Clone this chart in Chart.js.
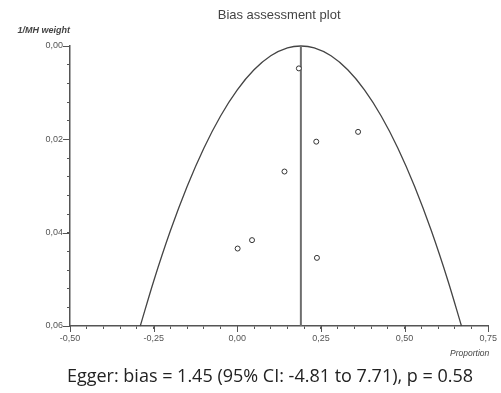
<!DOCTYPE html>
<html>
<head>
<meta charset="utf-8">
<script src="https://cdn.jsdelivr.net/npm/chart.js@4.4.1/dist/chart.umd.min.js"></script>
<style>
  html, body { margin: 0; padding: 0; background: #ffffff; }
  #wrap { position: relative; width: 501px; height: 393px; }
  canvas { display: block; }
</style>
</head>
<body>
<div id="wrap"><canvas id="c" width="501" height="393"></canvas></div>
<script>
// ---- data ----
const studyProportion = [0.184, 0.236, 0.361, 0.141, 0.044, 0.001, 0.238];
const studyInvWeight  = [0.0048, 0.0205, 0.0184, 0.0269, 0.0416, 0.0434, 0.0454];

const pooledProportion = 0.19;
const pooledLineY = [0, 0.06];

const curveProportion = [-0.29, -0.25, -0.20, -0.15, -0.10, -0.05, 0.00, 0.05, 0.10, 0.15, 0.19, 0.23, 0.28, 0.33, 0.38, 0.43, 0.48, 0.53, 0.58, 0.63, 0.67];
const curveInvWeight  = [0.060, 0.0504, 0.0396, 0.0301, 0.0219, 0.0150, 0.0094, 0.0051, 0.0021, 0.0004, 0.0, 0.0004, 0.0021, 0.0051, 0.0094, 0.0150, 0.0219, 0.0301, 0.0396, 0.0504, 0.060];

const xTickValues = [-0.5, -0.25, 0, 0.25, 0.5, 0.75];
const xTickLabels = ['-0,50', '-0,25', '0,00', '0,25', '0,50', '0,75'];
const yTickValues = [0, 0.02, 0.04, 0.06];
const yTickLabels = ['0,00', '0,02', '0,04', '0,06'];

const titleText = 'Bias assessment plot';
const yAxisTitle = '1/MH weight';
const xAxisTitle = 'Proportion';
const eggerText = 'Egger: bias = 1.45 (95% CI: -4.81 to 7.71), p = 0.58';

// ---- helpers ----
function labelFor(values, labels, v) {
  const i = values.findIndex(t => Math.abs(t - v) < 1e-9);
  return i >= 0 ? labels[i] : '';
}

const AXIS = '#555555';

const textPlugin = {
  id: 'texts',
  afterDraw(chart) {
    const ctx = chart.ctx;
    const area = chart.chartArea;
    const xs = chart.scales.x, ys = chart.scales.y;
    ctx.save();
    // major tick extensions
    ctx.strokeStyle = AXIS;
    ctx.lineWidth = 1;
    xTickValues.forEach(v => {
      const px = Math.round(xs.getPixelForValue(v)) + 0.5;
      ctx.beginPath(); ctx.moveTo(px, area.bottom); ctx.lineTo(px, area.bottom + 6); ctx.stroke();
    });
    yTickValues.forEach(v => {
      const py = Math.round(ys.getPixelForValue(v)) + 0.5;
      ctx.beginPath(); ctx.moveTo(area.left, py); ctx.lineTo(area.left - 7, py); ctx.stroke();
    });
    // title
    ctx.fillStyle = '#444444';
    ctx.font = '13px "Liberation Sans", Arial, sans-serif';
    ctx.textAlign = 'center';
    ctx.textBaseline = 'middle';
    ctx.fillText(titleText, (area.left + area.right) / 2, 15);
    // axis titles
    ctx.fillStyle = '#444444';
    ctx.font = 'italic bold 9px "Liberation Sans", Arial, sans-serif';
    ctx.textAlign = 'right';
    ctx.fillText(yAxisTitle, area.left, 31);
    ctx.font = 'italic 8.5px "Liberation Sans", Arial, sans-serif';
    ctx.fillText(xAxisTitle, area.right + 1, 354);
    // Egger line
    ctx.fillStyle = '#222222';
    ctx.font = '18px "Open Sans", "Noto Sans", sans-serif';
    ctx.textAlign = 'center';
    ctx.fillText(eggerText, 270, 377);
    ctx.restore();
  }
};

const chart = new Chart(document.getElementById('c'), {
  type: 'scatter',
  data: {
    datasets: [
      {
        label: 'curve',
        data: curveProportion.map((x, i) => ({ x: x, y: curveInvWeight[i] })),
        showLine: true,
        borderColor: '#444444',
        borderWidth: 1.3,
        pointRadius: 0,
        cubicInterpolationMode: 'monotone',
        clip: false,
        order: 3
      },
      {
        label: 'pooled',
        data: pooledLineY.map(y => ({ x: pooledProportion, y: y })),
        showLine: true,
        borderColor: '#6e6e6e',
        borderWidth: 2,
        pointRadius: 0,
        clip: false,
        order: 2
      },
      {
        label: 'studies',
        data: studyProportion.map((x, i) => ({ x: x, y: studyInvWeight[i] })),
        pointStyle: 'circle',
        pointRadius: 2.5,
        borderWidth: 1,
        borderColor: '#333333',
        backgroundColor: '#ffffff',
        order: 1
      }
    ]
  },
  options: {
    responsive: false,
    animation: false,
    devicePixelRatio: 1,
    layout: { padding: { top: 46, left: 0, right: 9, bottom: 47 } },
    plugins: {
      legend: { display: false },
      tooltip: { enabled: false },
      title: { display: false }
    },
    scales: {
      x: {
        type: 'linear',
        min: -0.5, max: 0.75,
        afterFit: s => { s.height = 20; },
        afterBuildTicks: s => {
          const t = [];
          for (let k = 0; k <= 25; k++) t.push({ value: -0.5 + k * 0.05 });
          s.ticks = t;
        },
        border: { display: true, color: AXIS, width: 1.5 },
        grid: { display: true, drawOnChartArea: false, drawTicks: true, tickLength: 3, color: AXIS, tickColor: AXIS },
        ticks: {
          autoSkip: false, maxRotation: 0, padding: 4,
          color: '#555555',
          font: { family: '"Liberation Sans", Arial, sans-serif', size: 9 },
          callback: v => labelFor(xTickValues, xTickLabels, v)
        }
      },
      y: {
        type: 'linear',
        reverse: true,
        min: 0, max: 0.06,
        afterFit: s => { s.width = 70; },
        afterBuildTicks: s => {
          const t = [];
          for (let k = 0; k <= 15; k++) t.push({ value: k * 0.004 });
          s.ticks = t;
        },
        border: { display: true, color: AXIS, width: 1.5 },
        grid: { display: true, drawOnChartArea: false, drawTicks: true, tickLength: 3, color: AXIS, tickColor: AXIS },
        ticks: {
          autoSkip: false, padding: 4,
          color: '#555555',
          font: { family: '"Liberation Sans", Arial, sans-serif', size: 9 },
          callback: v => labelFor(yTickValues, yTickLabels, v)
        }
      }
    }
  },
  plugins: [textPlugin]
});
</script>
</body>
</html>
